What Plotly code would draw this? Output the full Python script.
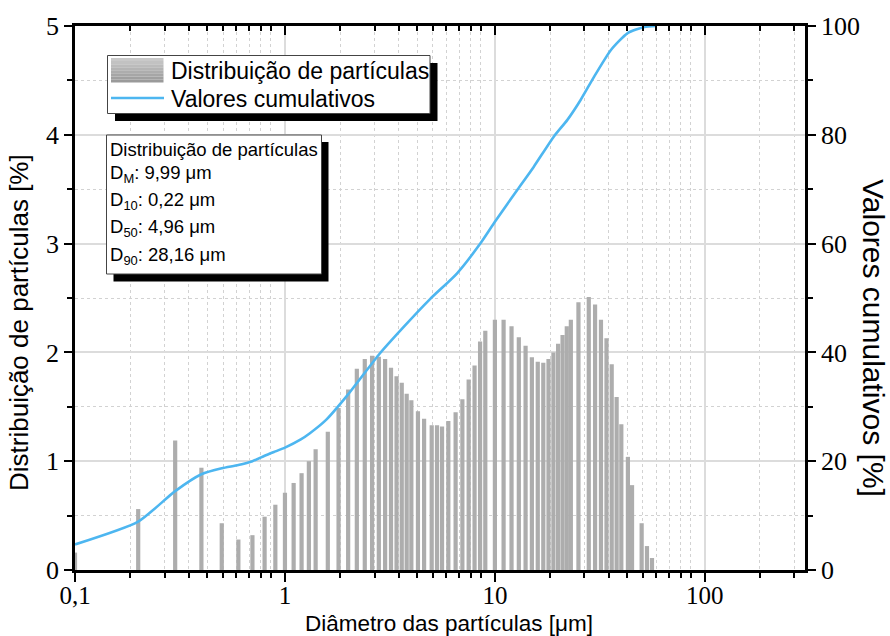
import plotly.graph_objects as go

# ---------------- data ----------------
diam = [0.1, 0.2, 0.3, 0.4, 0.5, 0.6, 0.7, 0.8, 0.9, 1.0, 1.1, 1.2, 1.3, 1.4, 1.6, 1.8,
        2.0, 2.2, 2.4, 2.6, 2.8, 3.0, 3.2, 3.4, 3.6, 3.8, 4.0, 4.3, 4.6, 5.0, 5.3, 5.6,
        6.0, 6.5, 7.0, 7.5, 8.0, 8.5, 9.0, 10, 11, 12, 13, 14, 15, 16, 17, 18, 19, 20,
        21, 22, 23, 25, 28, 30, 32, 34, 36, 38, 40, 43, 45, 50, 53, 56]
dist = [0.16, 0.56, 1.19, 0.94, 0.43, 0.28, 0.32, 0.49, 0.60, 0.71, 0.80, 0.89, 1.00, 1.11, 1.27, 1.49,
        1.66, 1.85, 1.94, 1.97, 1.96, 1.94, 1.86, 1.78, 1.72, 1.62, 1.56, 1.46, 1.39, 1.33, 1.33, 1.32,
        1.37, 1.45, 1.57, 1.75, 1.88, 2.10, 2.20, 2.30, 2.30, 2.24, 2.14, 2.06, 1.955, 1.915, 1.905, 1.94, 2.00, 2.08,
        2.16, 2.24, 2.30, 2.46, 2.51, 2.44, 2.30, 2.13, 1.89, 1.59, 1.34, 1.04, 0.78, 0.43, 0.22, 0.11]

cum_x = [0.1, 0.2, 0.3, 0.4, 0.5, 0.6, 0.7, 0.8, 0.9, 1.0, 1.19, 1.31, 1.57, 1.99, 2.83, 3.66,
         4.91, 6.59, 8.52, 10, 12.8, 15.3, 19.1, 22.1, 25.6, 29.7, 35.7, 42.9, 51.5, 58.6]
cum_y = [4.7, 8.9, 14.5, 17.6, 18.7, 19.3, 20.0, 21.0, 21.8, 22.5, 24.0, 25.1, 27.6, 32.2, 39.8, 44.6,
         49.8, 54.5, 60.0, 64.0, 69.9, 74.1, 79.7, 82.7, 86.4, 90.7, 95.6, 98.7, 99.8, 100.0]

x_major = [0.1, 1, 10, 100]
x_major_text = ["0,1", "1", "10", "100"]
minor_fracs = [1.83, 2.67, 3.48, 4.27, 5.07, 5.87, 6.75, 7.67, 8.57]
x_minor = [base * f for base in [0.1, 1, 10, 100] for f in minor_fracs]

stats_lines = ["Distribuição de partículas",
               "D<sub>M</sub>: 9,99 μm",
               "D<sub>10</sub>: 0,22 μm",
               "D<sub>50</sub>: 4,96 μm",
               "D<sub>90</sub>: 28,16 μm"]

legend_names = ["Distribuição de partículas", "Valores cumulativos"]

# ---------------- figure ----------------
W, H = 890, 636
L, R, T, B = 75, 85, 26, 66
pw, ph = W - L - R, H - T - B


def px(x):
    return (x - L) / pw


def py(y):
    return (H - B - y) / ph


bar_x, bar_y = [], []
for d, v in zip(diam, dist):
    bar_x += [d, d, None]
    bar_y += [0, v, None]

fig = go.Figure()
fig.add_trace(go.Scatter(x=bar_x, y=bar_y, mode="lines", name=legend_names[0],
                         line=dict(color="#adadad", width=4.2), showlegend=False,
                         hoverinfo="skip"))
fig.add_trace(go.Scatter(x=cum_x, y=cum_y, mode="lines", name=legend_names[1],
                         xaxis="x2", yaxis="y2",
                         line=dict(color="#4db6f0", width=2.6, shape="spline", smoothing=0.6),
                         showlegend=False))

tickfont = dict(family="Liberation Serif", size=26, color="black")
xtickfont = dict(family="Liberation Serif", size=25, color="black")
xr = [-1, 2.477]
common_x = dict(type="log", range=xr, showline=True, linecolor="black", linewidth=2.5,
                zeroline=False)

fig.update_layout(
    width=W, height=H,
    margin=dict(l=L, r=R, t=T, b=B),
    paper_bgcolor="white", plot_bgcolor="white",
    showlegend=False,
    xaxis=dict(**common_x, side="bottom", tickmode="array", tickvals=x_major, ticktext=x_major_text,
               ticks="outside", ticklen=9, tickwidth=2, tickcolor="black", tickfont=xtickfont,
               ticklabelstandoff=-8,
               showgrid=True, gridcolor="#dcdcdc", gridwidth=1.5,
               minor=dict(tickmode="array", tickvals=x_minor, ticks="outside", ticklen=5,
                          tickwidth=1.5, tickcolor="black", showgrid=True, gridcolor="#d2d2d2",
                          griddash="dot", gridwidth=1)),
    xaxis2=dict(**common_x, side="top", overlaying="x", anchor="y2", tickmode="array",
                tickvals=x_major, showticklabels=False,
                ticks="inside", ticklen=9, tickwidth=2, tickcolor="black", showgrid=False,
                minor=dict(tickmode="array", tickvals=x_minor, ticks="inside", ticklen=5,
                           tickwidth=1.5, tickcolor="black", showgrid=False)),
    yaxis=dict(range=[0, 5], tickvals=[0, 1, 2, 3, 4, 5], showline=True, linecolor="black",
               linewidth=2.5, ticks="outside", ticklen=8, tickwidth=2, tickcolor="black",
               tickfont=tickfont, zeroline=False,
               showgrid=True, gridcolor="#dcdcdc", gridwidth=1.5,
               minor=dict(dtick=0.5, ticks="outside", ticklen=5, tickwidth=1.5, tickcolor="black",
                          showgrid=True, gridcolor="#d2d2d2", griddash="dot", gridwidth=1)),
    yaxis2=dict(range=[0, 100], tickvals=[0, 20, 40, 60, 80, 100], overlaying="y", side="right",
                anchor="x2", showline=True, linecolor="black", linewidth=2.5, ticks="outside",
                ticklen=8, tickwidth=2, tickcolor="black", tickfont=tickfont, zeroline=False,
                showgrid=False,
                minor=dict(dtick=10, ticks="outside", ticklen=5, tickwidth=1.5, tickcolor="black",
                           showgrid=False)),
)

sans = "Liberation Sans"
ann = []
# axis titles
ann.append(dict(text="Diâmetro das partículas [μm]", xref="paper", yref="paper",
                x=px(449), y=py(623), xanchor="center", yanchor="middle", showarrow=False,
                font=dict(family=sans, size=22.5, color="black")))
ann.append(dict(text="Distribuição de partículas [%]", xref="paper", yref="paper",
                x=px(19), y=py(323), xanchor="center", yanchor="middle", showarrow=False,
                textangle=-90, font=dict(family=sans, size=26, color="black")))
ann.append(dict(text="Valores cumulativos [%]", xref="paper", yref="paper",
                x=px(874), y=py(338), xanchor="center", yanchor="middle", showarrow=False,
                textangle=90, font=dict(family=sans, size=30, color="black")))

shapes = []
# legend box
shapes.append(dict(type="rect", xref="paper", yref="paper", x0=px(115), x1=px(437.5),
                   y0=py(121), y1=py(63), fillcolor="black", line=dict(width=0), layer="above"))
shapes.append(dict(type="rect", xref="paper", yref="paper", x0=px(107.5), x1=px(430),
                   y0=py(113.5), y1=py(55.5), fillcolor="white",
                   line=dict(color="#444444", width=1), layer="above"))
# gradient patch for bar entry
grays = ["#c9c9c9", "#c2c2c2", "#bbbbbb", "#b4b4b4", "#adadad", "#a6a6a6", "#a0a0a0", "#9a9a9a"]
p_top, p_bot = 58, 82.5
step = (p_bot - p_top) / len(grays)
for i, g in enumerate(grays):
    shapes.append(dict(type="rect", xref="paper", yref="paper", x0=px(111), x1=px(163.5),
                       y0=py(p_top + (i + 1) * step), y1=py(p_top + i * step),
                       fillcolor=g, line=dict(width=0), layer="above"))
shapes.append(dict(type="line", xref="paper", yref="paper", x0=px(111), x1=px(164),
                   y0=py(98), y1=py(98), line=dict(color="#4db6f0", width=2.6), layer="above"))
ann.append(dict(text=legend_names[0], xref="paper", yref="paper", x=px(169), y=py(71),
                xanchor="left", yanchor="middle", showarrow=False,
                font=dict(family=sans, size=23, color="black")))
ann.append(dict(text=legend_names[1], xref="paper", yref="paper", x=px(169), y=py(98.5),
                xanchor="left", yanchor="middle", showarrow=False,
                font=dict(family=sans, size=23, color="black")))

# stats box
shapes.append(dict(type="rect", xref="paper", yref="paper", x0=px(113.5), x1=px(328.5),
                   y0=py(281.5), y1=py(142), fillcolor="black", line=dict(width=0), layer="above"))
shapes.append(dict(type="rect", xref="paper", yref="paper", x0=px(106.5), x1=px(321.5),
                   y0=py(274), y1=py(135), fillcolor="white",
                   line=dict(color="#444444", width=1), layer="above"))
line_y = [149.5, 174, 201, 228.5, 256]
for txt, yy in zip(stats_lines, line_y):
    ann.append(dict(text=txt, xref="paper", yref="paper", x=px(108), y=py(yy),
                    xanchor="left", yanchor="middle", showarrow=False,
                    font=dict(family=sans, size=18.5, color="black")))

fig.update_layout(annotations=ann, shapes=shapes)
fig.write_html("out.html")
